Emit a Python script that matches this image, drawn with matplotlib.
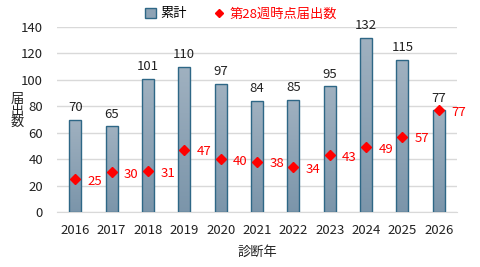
import numpy as np
import matplotlib
matplotlib.use('Agg')
import matplotlib.pyplot as plt
from matplotlib.lines import Line2D
from matplotlib.patches import Patch

plt.rcParams['font.family'] = ['Noto Sans CJK JP', 'DejaVu Sans']

# data
years = ['2016', '2017', '2018', '2019', '2020', '2021', '2022', '2023', '2024', '2025', '2026']
total = [70, 65, 101, 110, 97, 84, 85, 95, 132, 115, 77]
week28 = [25, 30, 31, 47, 40, 38, 34, 43, 49, 57, 77]

fig = plt.figure(figsize=(4.8, 2.67), dpi=100)
ax = fig.add_axes([57/480, 1 - 212/267, 400/480, (212 - 27)/267])

x = np.arange(len(years))
bars = ax.bar(x, total, width=0.33, color='#8ea3b5', linewidth=0, zorder=2)
# outlines drawn on top of the gradient
ax.bar(x, total, width=0.33, facecolor='none', edgecolor='#2e6786', linewidth=1.0, zorder=3)

# vertical gradient inside each bar
grad = np.linspace(0, 1, 256).reshape(-1, 1)
cmap = matplotlib.colors.LinearSegmentedColormap.from_list('g', ['#7b95aa', '#a0b1c0'])
for b in bars:
    im = ax.imshow(grad, cmap=cmap, aspect='auto', origin='lower',
                   extent=[b.get_x(), b.get_x() + b.get_width(), 0, b.get_height()], zorder=2)
    im.set_clip_path(b)

ax.plot(x, week28, linestyle='none', marker='D', color='red', markersize=5.5, zorder=4)

for xi, t in zip(x, total):
    ax.annotate(str(t), (xi, t), xytext=(0, 4), textcoords='offset points',
                ha='center', va='bottom', fontsize=9.5, color='#222222')
for xi, w in zip(x, week28):
    ax.annotate(str(w), (xi, w), xytext=(9, -1.5), textcoords='offset points',
                ha='left', va='center', fontsize=9.5, color='red')

ax.set_xlim(-0.5, len(years) - 0.5)
ax.set_ylim(0, 140)
ax.set_yticks(range(0, 141, 20))
ax.set_xticks(x)
ax.set_xticklabels(years)
ax.grid(axis='y', color='#d9d9d9', linewidth=1, zorder=0)
ax.set_axisbelow(True)
for s in ['top', 'right', 'left']:
    ax.spines[s].set_visible(False)
ax.spines['bottom'].set_color('#d9d9d9')
ax.tick_params(length=0, labelsize=9.5, colors='#222222')
ax.tick_params(axis='x', pad=9)
ax.tick_params(axis='y', pad=10)

ax.set_xlabel('診断年', fontsize=9.5, color='#222222', labelpad=6)
fig.text(17/480, 1 - 111/267, '届\n出\n数', ha='center', va='center', fontsize=9.5,
         color='#222222', linespacing=0.85)

handles = [Patch(facecolor='#8ea3b5', edgecolor='#2e6786', linewidth=1.0),
           Line2D([], [], linestyle='none', marker='D', color='red', markersize=4)]
leg = fig.legend(handles, ['累計', '第28週時点届出数'], loc='center', bbox_to_anchor=(241/480, 1 - 14/267),
                 ncol=2, frameon=False, fontsize=9.5, handlelength=0.8, handleheight=0.8,
                 handletextpad=0.4, columnspacing=2.0)
leg.get_texts()[1].set_color('red')

fig.savefig('out.png', dpi=100)
